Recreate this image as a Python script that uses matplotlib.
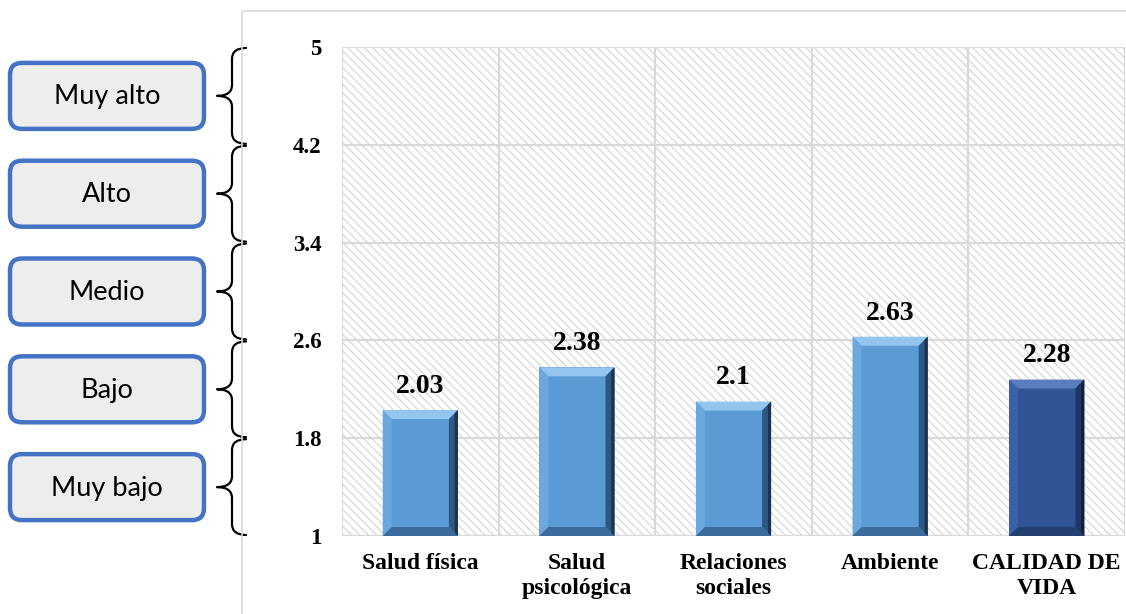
import numpy as np
import matplotlib
matplotlib.use("Agg")
import matplotlib.pyplot as plt
from matplotlib.patches import Rectangle, FancyBboxPatch, PathPatch, Polygon
from matplotlib.path import Path

# data
categories = ["Salud física", "Salud\npsicológica", "Relaciones\nsociales", "Ambiente", "CALIDAD DE\nVIDA"]
values = [2.03, 2.38, 2.1, 2.63, 2.28]
y_ticks = [1, 1.8, 2.6, 3.4, 4.2, 5]
levels = ["Muy bajo", "Bajo", "Medio", "Alto", "Muy alto"]

W, H = 1126, 614
SERIF = "Liberation Serif"

plt.rcParams["hatch.color"] = "#D4D4D4"
plt.rcParams["hatch.linewidth"] = 0.8

fig = plt.figure(figsize=(W / 100, H / 100), dpi=100)
fig.patch.set_facecolor("white")

# outer chart frame (only left and top edges fall inside the image)
fig.patches.append(Rectangle((242 / W, -0.05), 1.0, 1 - 11 / H + 0.05, transform=fig.transFigure,
                             facecolor="none", edgecolor="#D9D9D9", lw=1.2, zorder=0))

ax = fig.add_axes([342 / W, 1 - 536 / H, (1125 - 342) / W, (536 - 47) / H])
ax.set_xlim(-0.5, len(categories) - 0.5)
ax.set_ylim(y_ticks[0], y_ticks[-1])
for s in ax.spines.values():
    s.set_visible(False)

# hatched plot area
ax.add_patch(Rectangle((0, 0), 1, 1, transform=ax.transAxes, facecolor="white",
                       edgecolor="#D4D4D4", hatch="\\\\\\\\", lw=0, zorder=0))

ax.set_yticks(y_ticks)
ax.set_yticklabels([f"{t:g}" for t in y_ticks], fontfamily=SERIF, fontweight="bold", fontsize=16.5)
x = np.arange(len(categories))
ax.set_xticks(x)
ax.set_xticklabels(categories, fontfamily=SERIF, fontweight="bold", fontsize=17, linespacing=1.3)
ax.set_xticks(np.arange(len(categories) + 1) - 0.5, minor=True)
ax.tick_params(axis="both", which="both", length=0)
ax.tick_params(axis="y", pad=15)
ax.tick_params(axis="x", pad=12)
ax.grid(axis="y", which="major", color="#D9D9D9", lw=1.6, zorder=1)
ax.grid(axis="x", which="minor", color="#D9D9D9", lw=1.6, zorder=1)
ax.set_axisbelow(True)

# bars with a bevelled look
width = 0.48
bx = 9 / 157
by = 9 / (489 / 4)
styles = [
    dict(face="#5B9BD5", top="#93C5EF", left="#6AA8DF", right="#2C5884", edge="#1A3350", bottom="#3B6B9B"),
] * 4 + [
    dict(face="#2F5597", top="#5A7EBE", left="#3A62A6", right="#1E3765", edge="#121F3A", bottom="#223F70"),
]
base = y_ticks[0]
bars = ax.bar(x, np.array(values) - base, bottom=base, width=width,
              color=[st["face"] for st in styles], zorder=3, lw=0)
for xi, v, st in zip(x, values, styles):
    l, r = xi - width / 2, xi + width / 2
    b, t = base, v
    polys = [
        ([(l, t), (r, t), (r - bx, t - by), (l + bx, t - by)], st["top"]),
        ([(l, b), (l, t), (l + bx, t - by), (l + bx, b + by)], st["left"]),
        ([(r, b), (r, t), (r - bx, t - by), (r - bx, b + by)], st["right"]),
        ([(l, b), (r, b), (r - bx, b + by), (l + bx, b + by)], st["bottom"]),
    ]
    for pts, c in polys:
        ax.add_patch(Polygon(pts, closed=True, facecolor=c, edgecolor="none", zorder=4))
    ax.add_patch(Polygon([(r, b), (r, t), (r - bx * 0.35, t - by * 0.35), (r - bx * 0.35, b + by * 0.35)],
                         closed=True, facecolor=st["edge"], edgecolor="none", zorder=4))
    ax.annotate(f"{v:g}", (xi, v), xytext=(0, 8), textcoords="offset points",
                ha="center", va="bottom", fontfamily=SERIF, fontweight="bold", fontsize=20, zorder=5)

# level boxes with braces, in pixel coordinates (y down)
ov = fig.add_axes([0, 0, 1, 1], facecolor="none")
ov.set_xlim(0, W)
ov.set_ylim(H, 0)
ov.axis("off")


def row(v):
    return H - ax.transData.transform((0, v))[1]


for name, lo, hi in zip(levels, y_ticks[:-1], y_ticks[1:]):
    yt, yb = row(hi) + 1, row(lo) - 1
    ym = (yt + yb) / 2
    xe, xv, xc, rr = 246, 232, 217, 11
    verts = [(xe, yt), (xv, yt), (xv, yt + rr), (xv, ym - rr), (xv, ym), (xc, ym),
             (xv, ym), (xv, ym + rr), (xv, yb - rr), (xv, yb), (xe, yb)]
    codes = [Path.MOVETO, Path.CURVE3, Path.CURVE3, Path.LINETO, Path.CURVE3, Path.CURVE3,
             Path.CURVE3, Path.CURVE3, Path.LINETO, Path.CURVE3, Path.CURVE3]
    ov.add_patch(PathPatch(Path(verts, codes), facecolor="none", edgecolor="black", lw=1.6,
                           capstyle="round", joinstyle="round"))

    bh = 66
    ov.add_patch(FancyBboxPatch((10, ym - bh / 2), 194, bh, boxstyle="round,pad=0,rounding_size=12",
                                facecolor="#EDEDED", edgecolor="#4472C4", lw=3.2))
    ov.text(107, ym + 1, name, ha="center", va="center", fontfamily="Lato", fontsize=19.5, color="black")

fig.savefig("out.png", dpi=100)
